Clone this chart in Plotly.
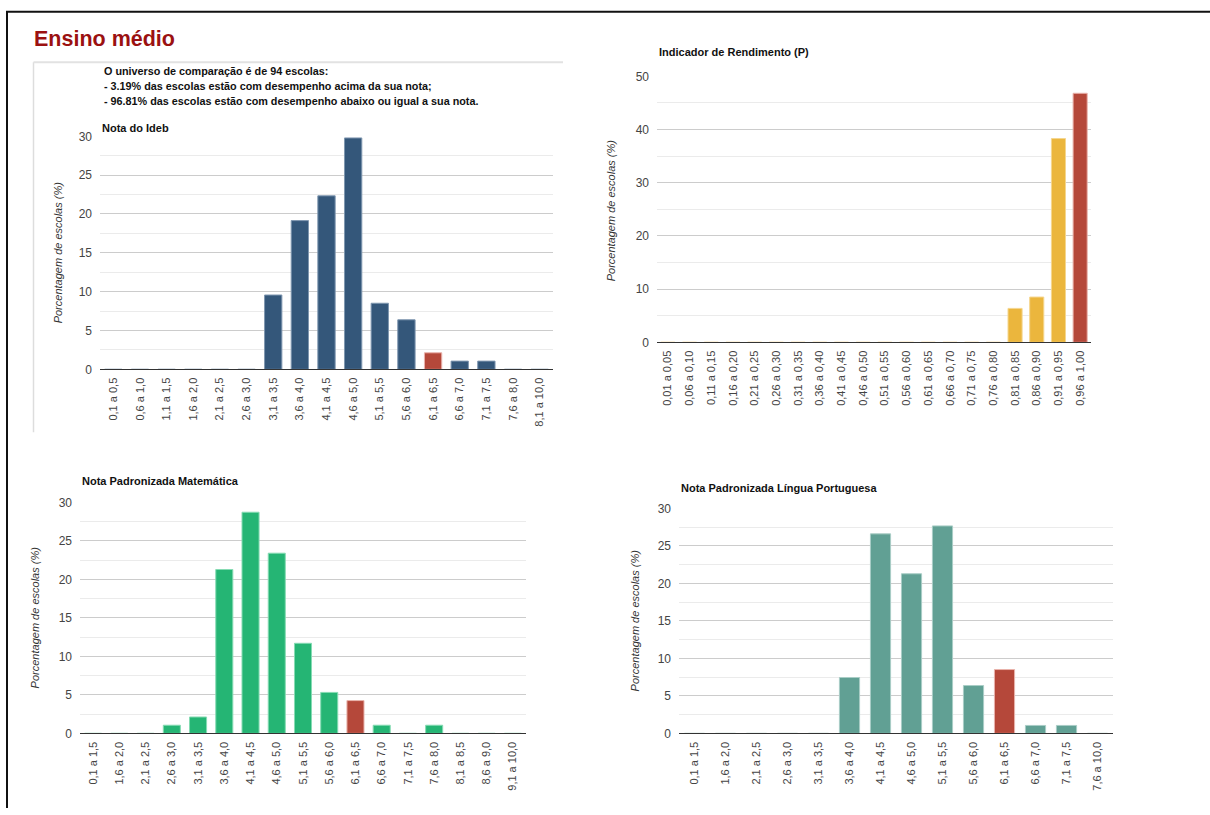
import plotly.graph_objects as go

W, H = 1210, 815

# ---------------- data ----------------
ideb_cats = ["0,1 a 0,5", "0,6 a 1,0", "1,1 a 1,5", "1,6 a 2,0", "2,1 a 2,5", "2,6 a 3,0",
             "3,1 a 3,5", "3,6 a 4,0", "4,1 a 4,5", "4,6 a 5,0", "5,1 a 5,5", "5,6 a 6,0",
             "6,1 a 6,5", "6,6 a 7,0", "7,1 a 7,5", "7,6 a 8,0", "8,1 a 10,0"]
ideb_vals = [0, 0, 0, 0, 0, 0, 9.57, 19.15, 22.34, 29.79, 8.51, 6.38, 2.13, 1.06, 1.06, 0, 0]
ideb_highlight = "6,1 a 6,5"

rend_cats = ["0,01 a 0,05", "0,06 a 0,10", "0,11 a 0,15", "0,16 a 0,20", "0,21 a 0,25",
             "0,26 a 0,30", "0,31 a 0,35", "0,36 a 0,40", "0,41 a 0,45", "0,46 a 0,50",
             "0,51 a 0,55", "0,56 a 0,60", "0,61 a 0,65", "0,66 a 0,70", "0,71 a 0,75",
             "0,76 a 0,80", "0,81 a 0,85", "0,86 a 0,90", "0,91 a 0,95", "0,96 a 1,00"]
rend_vals = [0] * 16 + [6.38, 8.51, 38.3, 46.81]
rend_highlight = "0,96 a 1,00"

mat_cats = ["0,1 a 1,5", "1,6 a 2,0", "2,1 a 2,5", "2,6 a 3,0", "3,1 a 3,5", "3,6 a 4,0",
            "4,1 a 4,5", "4,6 a 5,0", "5,1 a 5,5", "5,6 a 6,0", "6,1 a 6,5", "6,6 a 7,0",
            "7,1 a 7,5", "7,6 a 8,0", "8,1 a 8,5", "8,6 a 9,0", "9,1 a 10,0"]
mat_vals = [0, 0, 0, 1.06, 2.13, 21.28, 28.72, 23.4, 11.7, 5.32, 4.26, 1.06, 0, 1.06, 0, 0, 0]
mat_highlight = "6,1 a 6,5"

port_cats = ["0,1 a 1,5", "1,6 a 2,0", "2,1 a 2,5", "2,6 a 3,0", "3,1 a 3,5", "3,6 a 4,0",
             "4,1 a 4,5", "4,6 a 5,0", "5,1 a 5,5", "5,6 a 6,0", "6,1 a 6,5", "6,6 a 7,0",
             "7,1 a 7,5", "7,6 a 10,0"]
port_vals = [0, 0, 0, 0, 0, 7.45, 26.6, 21.28, 27.66, 6.38, 8.51, 1.06, 1.06, 0]
port_highlight = "6,1 a 6,5"

page_title = "Ensino médio"
intro_lines = ["O universo de comparação é de 94 escolas:",
               "- 3.19% das escolas estão com desempenho acima da sua nota;",
               "- 96.81% das escolas estão com desempenho abaixo ou igual a sua nota."]
y_title = "Porcentagem de escolas (%)"

HIGHLIGHT = "#b5483a"
FONT = "Liberation Sans, Arial, sans-serif"

# observed vertical mapping of the photographed page: shown_y = 6.7 + 0.9827 * fig_y
Y_OFF, Y_SCALE = 6.7, 0.9827


def px_x(x):
    return x / W


def px_y(y):
    fy = (y - Y_OFF) / Y_SCALE
    return min(1.0, max(0.0, 1 - fy / H))


charts = [
    # cats, vals, highlight, color, line, title, (x0,x1), (ytop,ybot), ymax, dtick, title_y, ytitle_x, ytitle_y
    (ideb_cats, ideb_vals, ideb_highlight, "#34577a", "#7f97b0", "Nota do Ideb",
     (100, 553), (136, 369), 30, 5, 128, 58, 252),
    (rend_cats, rend_vals, rend_highlight, "#ebb63d", "#f5d68e", "Indicador de Rendimento (P)",
     (657, 1091), (76, 342), 50, 10, 52, 611, 210),
    (mat_cats, mat_vals, mat_highlight, "#25b574", "#86dbb3", "Nota Padronizada Matemática",
     (80, 526), (502, 733), 30, 5, 481, 35, 617),
    (port_cats, port_vals, port_highlight, "#61a094", "#a9cdc6", "Nota Padronizada Língua Portuguesa",
     (679, 1113), (508, 733), 30, 5, 488, 635, 620),
]

fig = go.Figure()
annotations = []
layout_axes = {}

for i, (cats, vals, hl, color, lcolor, title, (x0, x1), (yt, yb), ymax, dtick, ty, ytx, yty) in enumerate(charts, start=1):
    sfx = "" if i == 1 else str(i)
    colors = [HIGHLIGHT if c == hl else color for c in cats]
    lcolors = ["#e9b3ac" if c == hl else lcolor for c in cats]
    fig.add_trace(go.Bar(
        x=cats, y=vals, xaxis="x" + sfx, yaxis="y" + sfx,
        marker=dict(color=colors, line=dict(color=lcolors, width=1)),
        showlegend=False, hoverinfo="x+y",
    ))
    layout_axes["xaxis" + sfx] = dict(
        domain=[px_x(x0), px_x(x1)], anchor="y" + sfx, type="category",
        showline=True, linecolor="#333333", linewidth=1, ticks="",
        tickangle=-90, tickfont=dict(family=FONT, size=11, color="#444444"),
        ticklabelstandoff=3,
        showgrid=False, zeroline=False, fixedrange=True,
    )
    layout_axes["yaxis" + sfx] = dict(
        domain=[px_y(yb), px_y(yt)], anchor="x" + sfx, range=[0, ymax],
        dtick=dtick, tick0=0, showline=False, zeroline=False,
        gridcolor="#cccccc", gridwidth=1,
        minor=dict(dtick=dtick / 2, showgrid=True, gridcolor="#ebebeb", ticks=""),
        tickfont=dict(family=FONT, size=12, color="#444444"), ticks="",
        ticklabelstandoff=7,
        fixedrange=True,
    )
    annotations.append(dict(
        text="<b>" + title + "</b>", x=px_x(x0), y=px_y(ty), xref="paper", yref="paper",
        xanchor="left", yanchor="middle", showarrow=False,
        font=dict(family=FONT, size=11, color="#111111"),
    ))
    annotations.append(dict(
        text="<i>" + y_title + "</i>", x=px_x(ytx), y=px_y(yty), xref="paper", yref="paper",
        xanchor="center", yanchor="middle", textangle=-90, showarrow=False,
        font=dict(family=FONT, size=11, color="#333333"),
    ))

annotations.append(dict(
    text="<b>" + page_title + "</b>", x=px_x(32), y=px_y(39), xref="paper", yref="paper",
    xanchor="left", yanchor="middle", showarrow=False,
    font=dict(family=FONT, size=21.5, color="#9b1111"),
))
for k, line in enumerate(intro_lines):
    annotations.append(dict(
        text="<b>" + line + "</b>", x=px_x(102), y=px_y(71 + k * 14.7), xref="paper", yref="paper",
        xanchor="left", yanchor="middle", showarrow=False,
        font=dict(family=FONT, size=10.8, color="#111111"),
    ))

shapes = [
    dict(type="line", xref="paper", yref="paper", x0=px_x(7), x1=px_x(7), y0=px_y(11), y1=0,
         line=dict(color="#111111", width=2)),
    dict(type="line", xref="paper", yref="paper", x0=px_x(6), x1=1, y0=px_y(11.5), y1=px_y(11.5),
         line=dict(color="#111111", width=2)),
    dict(type="line", xref="paper", yref="paper", x0=px_x(33.5), x1=px_x(33.5), y0=px_y(62), y1=px_y(432),
         line=dict(color="#dddddd", width=1.5)),
    dict(type="line", xref="paper", yref="paper", x0=px_x(33.5), x1=px_x(563), y0=px_y(62), y1=px_y(62),
         line=dict(color="#e2e2e2", width=2)),
]

fig.update_layout(
    width=W, height=H, margin=dict(l=0, r=0, t=0, b=0),
    paper_bgcolor="white", plot_bgcolor="white",
    bargap=0.35, annotations=annotations, shapes=shapes,
    font=dict(family=FONT), showlegend=False,
    **layout_axes,
)

fig.write_html(
    "out.html",
    config={"displayModeBar": False},
    post_script="document.documentElement.style.margin='0';document.body.style.margin='0';"
                "document.body.style.padding='0';document.body.style.overflow='hidden';"
                "document.documentElement.style.overflow='hidden';"
                "var gd=document.getElementById('{plot_id}');"
                "gd.style.position='fixed';gd.style.top='0px';gd.style.left='0px';",
)
